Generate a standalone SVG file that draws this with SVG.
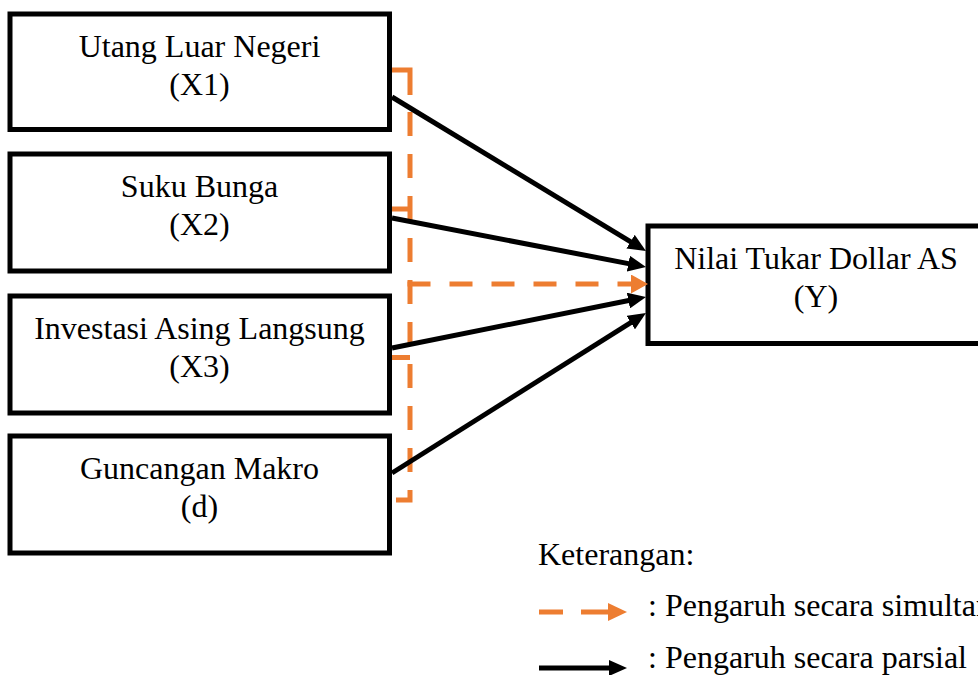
<svg xmlns="http://www.w3.org/2000/svg" width="978" height="675" viewBox="0 0 978 675">
<style>
.box{fill:#fff;stroke:#000;stroke-width:5}
.lbl{font-family:"Liberation Serif","Times New Roman",serif;font-size:32px;fill:#000}
.mid{text-anchor:middle}
.par{stroke:#000;stroke-width:5;fill:none}
.sim{stroke:#ED7D31;stroke-width:5;fill:none}
</style>
<defs>
<marker id="ah" markerUnits="userSpaceOnUse" markerWidth="18" markerHeight="16" refX="8" refY="8" orient="auto" viewBox="0 0 18 16">
<path d="M0,0 L18,8 L0,16 Z" fill="#000"/>
</marker>
<marker id="ao" markerUnits="userSpaceOnUse" markerWidth="17" markerHeight="19" refX="7" refY="9.5" orient="auto" viewBox="0 0 17 19">
<path d="M0,0 L17,9.5 L0,19 Z" fill="#ED7D31"/>
</marker>
</defs>
<rect width="978" height="675" fill="#fff"/>
<g id="x1">
<rect class="box" x="10" y="14" width="379.5" height="115.5"/>
<text class="lbl mid" x="199.5" y="57">Utang Luar Negeri</text>
<text class="lbl mid" x="199.5" y="95">(X1)</text>
</g>
<g id="x2">
<rect class="box" x="10" y="154" width="379.5" height="117"/>
<text class="lbl mid" x="199.5" y="197">Suku Bunga</text>
<text class="lbl mid" x="199.5" y="235">(X2)</text>
</g>
<g id="x3">
<rect class="box" x="10" y="296" width="379.5" height="117"/>
<text class="lbl mid" x="199.5" y="339">Investasi Asing Langsung</text>
<text class="lbl mid" x="199.5" y="377">(X3)</text>
</g>
<g id="d">
<rect class="box" x="10" y="436" width="379.5" height="117"/>
<text class="lbl mid" x="199.5" y="479">Guncangan Makro</text>
<text class="lbl mid" x="199.5" y="517">(d)</text>
</g>
<g id="y">
<rect class="box" x="648" y="226" width="350" height="117.5"/>
<text class="lbl mid" x="816" y="269">Nilai Tukar Dollar AS</text>
<text class="lbl mid" x="816" y="307">(Y)</text>
</g>
<g id="connectors">
<path class="sim" d="M392,70 H410 V500 H392" stroke-dasharray="43 17 24 18 24 18 24 18 24 18 24 18 24 18 24 18 24 18 24 18 24 18 24 18"/>
<path class="sim" d="M392,209 H410"/>
<path class="sim" d="M392,357.5 H410"/>
<path class="sim" d="M407.5,284 H638" stroke-dasharray="23 19" marker-end="url(#ao)"/>
<line class="par" x1="392" y1="97" x2="637.4" y2="245.8" marker-end="url(#ah)"/>
<line class="par" x1="392" y1="218" x2="636.2" y2="265.1" marker-end="url(#ah)"/>
<line class="par" x1="392" y1="348" x2="636.2" y2="299" marker-end="url(#ah)"/>
<line class="par" x1="392" y1="473" x2="637.5" y2="318.3" marker-end="url(#ah)"/>
</g>
<g id="legend">
<text class="lbl" x="538" y="565">Keterangan:</text>
<path class="sim" d="M539,612 H609" stroke-dasharray="24 18 28"/>
<polygon points="608,603 627,612 608,621" fill="#ED7D31"/>
<text class="lbl" x="648" y="616">: Pengaruh secara simultan</text>
<path class="par" d="M539,668 H612"/>
<polygon points="609,660 627,668 609,676" fill="#000"/>
<text class="lbl" x="648" y="668">: Pengaruh secara parsial</text>
</g>
</svg>
